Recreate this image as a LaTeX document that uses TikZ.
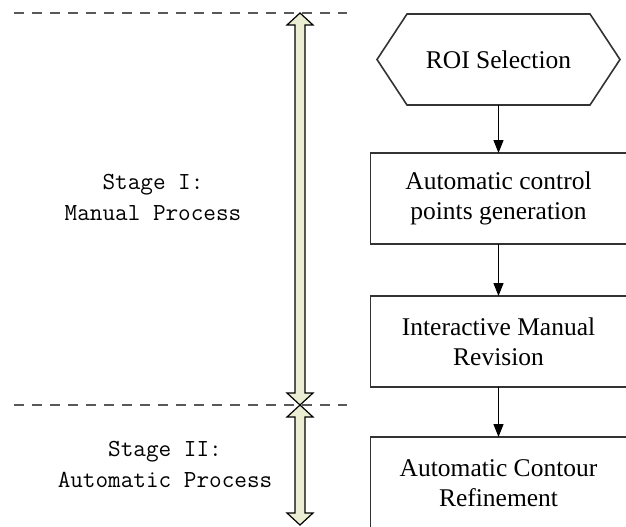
\documentclass[tikz,border=0pt]{standalone}
\usepackage{fontspec}
\setmainfont{Liberation Serif}
\usetikzlibrary{positioning,arrows.meta}
\definecolor{shaftfill}{RGB}{236,238,212}

\begin{document}
\begin{tikzpicture}[x=1pt,y=-1pt,
  stepbox/.style={draw=black!80,line width=1.6pt,outer sep=0pt,minimum width=256pt,minimum height=91pt,align=center,font=\fontsize{25.5}{30}\selectfont},
  stagelabel/.style={align=center,font=\ttfamily\fontsize{24.5}{31}\selectfont},
  stageline/.style={draw=black!65,line width=2pt,dash pattern=on 10pt off 8pt},
  bigarrow/.style={draw=black,line width=1.2pt,fill=shaftfill,line join=miter},
  flow/.style={-{Triangle[width=10pt,length=13pt]},line width=1.2pt}]
\useasboundingbox (0,0) rectangle (626,527);
% flow chart
\node[stepbox,draw=none,minimum width=183pt] (roi) at (498.5,59.5) {ROI Selection};
\draw[draw=black!80,line width=1.6pt] (roi.north west) -- (roi.north east) -- ([xshift=30pt]roi.east) -- (roi.south east) -- (roi.south west) -- ([xshift=-30pt]roi.west) -- cycle;
\node[stepbox,below=48pt of roi] (ctrl) {Automatic control\\points generation};
\node[stepbox,below=52pt of ctrl] (rev) {Interactive Manual\\Revision};
\node[stepbox,below=50pt of rev,minimum height=92pt] (ref) {Automatic Contour\\Refinement};
\draw[flow] (roi) -- (ctrl);
\draw[flow] (ctrl) -- (rev);
\draw[flow] (rev) -- (ref);
% stages
\coordinate (top-l) at (14,13);
\coordinate (top-r) at (347,13);
\coordinate (mid-l) at (14,405);
\coordinate (mid-r) at (347,405);
\draw[stageline] (top-l) -- (top-r);
\draw[stageline] (mid-l) -- (mid-r);
\draw[bigarrow] (300,13) -- (313,25) -- (305,25) -- (305,393) -- (313,393) -- (300,405) -- (287,393) -- (295,393) -- (295,25) -- (287,25) -- cycle;
\draw[bigarrow] (300,405) -- (313,417) -- (305,417) -- (305,513) -- (313,513) -- (300,525) -- (287,513) -- (295,513) -- (295,417) -- (287,417) -- cycle;
\node[stagelabel] (stage1) at (153,197.5) {Stage I:\\Manual Process};
\node[stagelabel] (stage2) at (165,464) {Stage II:\\Automatic Process};
\end{tikzpicture}
\end{document}
